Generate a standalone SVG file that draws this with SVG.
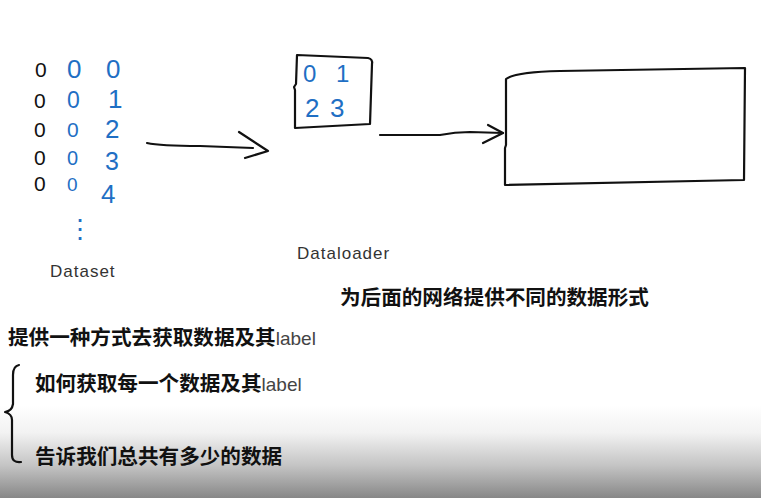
<svg xmlns="http://www.w3.org/2000/svg" width="761" height="498" viewBox="0 0 761 498">
<style>
.hw{fill:none;stroke:#111;stroke-width:2.2;stroke-linecap:round;stroke-linejoin:round}
.blk{font-family:"Liberation Sans",sans-serif;font-size:21px;fill:#111}
.blu{font-family:"Liberation Sans",sans-serif;font-size:26px;fill:#1f6fc4}
.cap{font-family:"Liberation Sans",sans-serif;font-size:17px;fill:#333;letter-spacing:1px}
.cn{font-family:"Liberation Sans","Noto Sans CJK SC",sans-serif;font-size:20.6px;font-weight:bold;fill:#111}
.lb{font-family:"Liberation Sans",sans-serif;font-size:19px;font-weight:normal;fill:#444}
</style>
<defs>
<linearGradient id="shade" x1="0" y1="0" x2="0" y2="1">
<stop offset="0" stop-color="#ffffff"/>
<stop offset="0.3" stop-color="#f2f2f2"/>
<stop offset="0.65" stop-color="#c4c4c4"/>
<stop offset="1" stop-color="#878787"/>
</linearGradient>
</defs>
<rect width="761" height="498" fill="#ffffff"/>
<rect x="0" y="405" width="761" height="93" fill="url(#shade)"/>

<g id="dataset">
<text class="blk" x="35" y="77">0</text>
<text class="blk" x="34" y="108">0</text>
<text class="blk" x="34" y="137">0</text>
<text class="blk" x="34" y="165">0</text>
<text class="blk" x="34" y="191">0</text>
<text class="blu" x="67" y="78">0</text>
<text class="blu" x="67" y="108" style="font-size:23px">0</text>
<text class="blu" x="67" y="137" style="font-size:21px">0</text>
<text class="blu" x="67" y="165" style="font-size:20px">0</text>
<text class="blu" x="67" y="191" style="font-size:19px">0</text>
<text class="blu" x="106" y="78">0</text>
<text class="blu" x="108" y="108">1</text>
<text class="blu" x="105" y="138">2</text>
<text class="blu" x="105" y="170" style="font-size:25px">3</text>
<text class="blu" x="101" y="203">4</text>
<text class="blu" x="67" y="238">⋮</text>
<text class="cap" x="50" y="277">Dataset</text>
</g>

<g id="dataloader">
<path class="hw" d="M297,55 L368,58 Q373,59 372,64 L370,124 L295,128 L295,90 L294,87 L296,84 Z"/>
<text class="blu" x="303" y="82" style="font-size:24px">0</text>
<text class="blu" x="336" y="82" style="font-size:24px">1</text>
<text class="blu" x="305" y="117">2</text>
<text class="blu" x="330" y="117">3</text>
<text class="cap" x="297" y="259">Dataloader</text>
</g>

<g id="network">
<path class="hw" d="M506,79 Q515,72 560,71 L745,68 L744,180 L505,185 L505,148 L506,145 Z"/>
</g>

<g id="connectors">
<path class="hw" d="M147,143 Q160,146 200,146 L253,148"/>
<path class="hw" d="M239,132 L268,151 L245,158"/>
<path class="hw" d="M380,135 L440,135 Q455,132 470,132 L503,133"/>
<path class="hw" d="M488,125 L503,133 L483,143"/>
</g>

<g id="notes">
<text class="cn" x="340" y="305">为后面的网络提供不同的数据形式</text>
<text class="cn" x="8" y="345">提供一种方式去获取数据及其<tspan class="lb">label</tspan></text>
<path class="hw" d="M19,365 Q13,366 13,375 L13,404 Q12,411 5,412 Q12,414 12,420 L12,455 Q12,463 21,462"/>
<text class="cn" x="35" y="391">如何获取每一个数据及其<tspan class="lb">label</tspan></text>
<text class="cn" x="35" y="464">告诉我们总共有多少的数据</text>
</g>
</svg>
